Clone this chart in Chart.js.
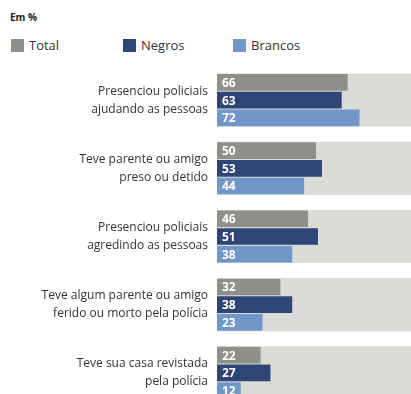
<!DOCTYPE html>
<html>
<head>
<meta charset="utf-8">
<script src="https://cdn.jsdelivr.net/npm/chart.js@4"></script>
<style>
  html, body { margin: 0; padding: 0; background: #fff; overflow: hidden; }
  body { width: 411px; height: 394px; position: relative; font-family: "Open Sans", sans-serif; color: #333; }
  .unit { position: absolute; left: 10px; top: 10px; font-size: 10px; font-weight: bold; color: #222; }
  .legend-item { position: absolute; top: 38px; font-size: 13px; line-height: 15px; color: #333; }
  .legend-item span { display: inline-block; width: 13px; height: 13px; vertical-align: -2px; margin-right: 5px; }
  .wrap { position: absolute; left: 0; top: 66px; width: 411px; height: 341px; }
</style>
</head>
<body>
<div class="unit">Em %</div>
<div class="legend-item" style="left:11px"><span style="background:#8f8f8b"></span>Total</div>
<div class="legend-item" style="left:123px"><span style="background:#2e4576"></span>Negros</div>
<div class="legend-item" style="left:233px"><span style="background:#7196c8"></span>Brancos</div>
<div class="wrap"><canvas id="chart"></canvas></div>
<script>
document.addEventListener("DOMContentLoaded", function () {

    // data
    const categories = [
        ["Presenciou policiais", "ajudando as pessoas"],
        ["Teve parente ou amigo", "preso ou detido"],
        ["Presenciou policiais", "agredindo as pessoas"],
        ["Teve algum parente ou amigo", "ferido ou morto pela polícia"],
        ["Teve sua casa revistada", "pela polícia"]
    ];
    const total = [66, 50, 46, 32, 22];
    const negros = [63, 53, 51, 38, 27];
    const brancos = [72, 44, 38, 23, 12];

    const catPct = 0.78;

    // grey band behind each group
    const bandPlugin = {
        id: "bands",
        beforeDatasetsDraw(chart) {
            const { ctx, chartArea, scales } = chart;
            const y = scales.y;
            const step = y.getPixelForValue(1) - y.getPixelForValue(0);
            const half = step * catPct / 2;
            ctx.save();
            ctx.fillStyle = "#dbdbd7";
            categories.forEach((c, i) => {
                const cy = y.getPixelForValue(i);
                ctx.fillRect(chartArea.left, cy - half, chartArea.right - chartArea.left, half * 2);
            });
            ctx.restore();
        }
    };

    // white numbers inside bars
    const valuePlugin = {
        id: "values",
        afterDatasetsDraw(chart) {
            const ctx = chart.ctx;
            ctx.save();
            ctx.fillStyle = "#fff";
            ctx.font = "bold 12px 'Open Sans', sans-serif";
            ctx.textBaseline = "middle";
            chart.data.datasets.forEach((ds, di) => {
                chart.getDatasetMeta(di).data.forEach((bar, i) => {
                    ctx.fillText(ds.data[i], bar.base + 5, bar.y + 1);
                });
            });
            ctx.restore();
        }
    };

    new Chart(document.getElementById("chart"), {
        type: "bar",
        data: {
            labels: categories,
            datasets: [
                { label: "Total", data: total, backgroundColor: "#8f8f8b" },
                { label: "Negros", data: negros, backgroundColor: "#2e4576" },
                { label: "Brancos", data: brancos, backgroundColor: "#7196c8" }
            ]
        },
        options: {
            indexAxis: "y",
            responsive: true,
            maintainAspectRatio: false,
            animation: false,
            categoryPercentage: catPct,
            barPercentage: 0.94,
            layout: { padding: 0 },
            plugins: { legend: { display: false }, tooltip: { enabled: false } },
            scales: {
                x: { display: false, min: 0, max: 98 },
                y: {
                    grid: { display: false, drawTicks: false },
                    border: { display: false },
                    ticks: {
                        padding: 9,
                        color: "#333",
                        font: { family: "'Open Sans', sans-serif", size: 12, lineHeight: 1.5 }
                    },
                    afterFit(scale) {
                        scale.width = 217;
                        scale.paddingTop = 0;
                        scale.paddingBottom = 0;
                    }
                }
            }
        },
        plugins: [bandPlugin, valuePlugin]
    });
});
</script>
</body>
</html>
